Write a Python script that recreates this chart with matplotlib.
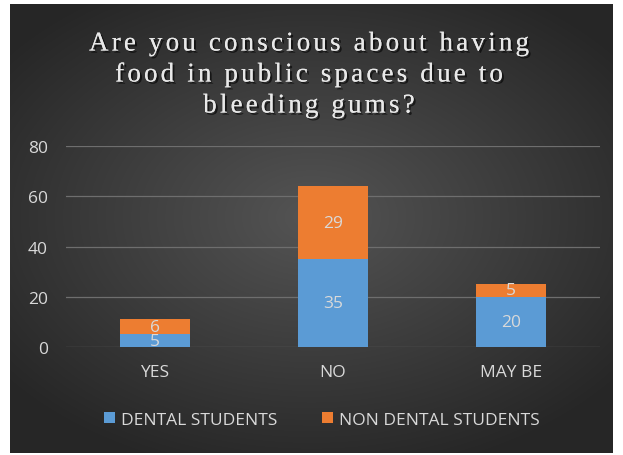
import matplotlib
matplotlib.use('Agg')
import matplotlib.pyplot as plt
import matplotlib.patheffects as pe
from matplotlib.font_manager import FontProperties
import numpy as np

categories = ['YES', 'NO', 'MAY BE']
dental = [5, 35, 20]
non_dental = [6, 29, 5]
series_names = ['DENTAL STUDENTS', 'NON DENTAL STUDENTS']
title_lines = ['Are you conscious about having', 'food in public spaces due to', 'bleeding gums?']

W, H = 623, 456
fig = plt.figure(figsize=(W / 100, H / 100), dpi=100, facecolor='white')

# dark radial-gradient panel
bg = fig.add_axes([10 / W, 2 / H, 603 / W, 449 / H])
yy, xx = np.mgrid[-1:1:300j, -1:1:400j]
r = np.sqrt((xx * 1.0) ** 2 + ((yy + 0.05) * 1.1) ** 2)
shade = 0.33 - 0.18 * np.clip(r / 1.3, 0, 1)
bg.imshow(np.dstack([shade, shade, shade]), aspect='auto', extent=[0, 1, 0, 1], interpolation='bilinear')
bg.set_axis_off()

# title with wide letter spacing (drawn char by char)
renderer = fig.canvas.get_renderer()
tfp = FontProperties(family='Liberation Serif', size=19.5)
shadow = [pe.withSimplePatchShadow(offset=(1.5, -1.5), shadow_rgbFace='black', alpha=0.6), pe.Normal()]


def tw(s):
    # width of a string in pixels, measured with a trailing bar to keep spaces
    w, _, _ = renderer.get_text_width_height_descent(s + '|', tfp, ismath=False)
    wb, _, _ = renderer.get_text_width_height_descent('|', tfp, ismath=False)
    return w - wb


w0 = tw(title_lines[0])
extra = (440 - w0) / (len(title_lines[0]) - 1)
for line, yc in zip(title_lines, [45, 76, 107]):
    total = tw(line) + extra * (len(line) - 1)
    x0 = 309 - total / 2
    for i, ch in enumerate(line):
        if ch == ' ':
            continue
        xp = x0 + tw(line[:i]) + extra * i
        fig.text(xp / W, 1 - yc / H, ch, ha='left', va='center', fontproperties=tfp,
                 color='#e8e8e8', path_effects=shadow)

ax = fig.add_axes([66 / W, 1 - 348 / H, 534 / W, 201 / H])
ax.set_facecolor('none')
x = np.arange(len(categories))
blue, orange = '#5b9bd5', '#ed7d31'
b1 = ax.bar(x, dental, width=0.39, color=blue, label=series_names[0])
b2 = ax.bar(x, non_dental, width=0.39, bottom=dental, color=orange, label=series_names[1])
ax.set_xlim(-0.5, 2.5)
ax.set_ylim(0, 80)
ax.set_yticks(range(0, 81, 20))
ax.set_xticks(x)
ax.set_xticklabels(categories)
ax.grid(axis='y', color='#6e6e6e', lw=0.9)
ax.set_axisbelow(True)
for s in ax.spines.values():
    s.set_visible(False)
ax.tick_params(length=0, colors='#d9d9d9', labelsize=12.5)
ax.tick_params(axis='x', pad=12)
ax.tick_params(axis='y', pad=13)
for lab in ax.get_xticklabels() + ax.get_yticklabels():
    lab.set_family('Open Sans')
ax.bar_label(b1, label_type='center', color='#d9d9d9', fontsize=12.5, family='Open Sans')
ax.bar_label(b2, label_type='center', color='#d9d9d9', fontsize=12.5, family='Open Sans')

leg = fig.legend(loc='center', bbox_to_anchor=(322 / W, 1 - 421 / H), ncol=2, frameon=False,
                 handlelength=0.6, handleheight=0.6, handletextpad=0.35, columnspacing=2.6,
                 prop={'family': 'Open Sans', 'size': 12.5})
for t in leg.get_texts():
    t.set_color('#d9d9d9')

fig.savefig('out.png', dpi=100, facecolor='white')
